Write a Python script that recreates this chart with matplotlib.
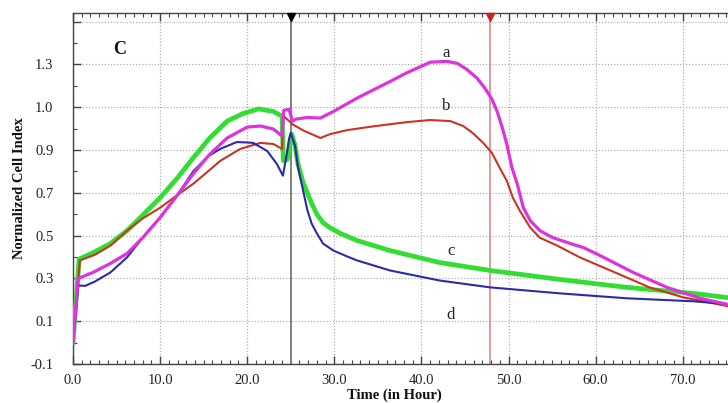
import matplotlib
matplotlib.use("Agg")
import matplotlib.pyplot as plt
import matplotlib.transforms as mtransforms
from matplotlib.ticker import MultipleLocator, FixedLocator

# ---------------- data ----------------
t_a = [0, 0.6, 2.3, 4.3, 6.2, 8.0, 10.0, 12.0, 13.8, 15.7, 17.7, 20.0, 21.5, 23.0, 24.0,
       24.2, 24.8, 25.2, 25.6, 26.9, 28.4, 29.9, 32.6, 36.4, 38.3, 40.2, 41.0, 42.9, 44.1,
       45.2, 46.4, 47.3, 48.1, 48.7, 49.3, 49.8, 50.4, 51.0, 51.7, 52.5, 53.6, 55.1, 57.1,
       58.6, 60.5, 64.3, 68.2, 72.0, 75.2]
v_a = [0.0, 0.30, 0.328, 0.37, 0.416, 0.49, 0.584, 0.69, 0.788, 0.88, 0.956, 1.007, 1.012, 0.998, 0.965,
       1.085, 1.09, 1.035, 1.044, 1.052, 1.049, 1.08, 1.142, 1.22, 1.26, 1.295, 1.31, 1.314, 1.305,
       1.277, 1.235, 1.188, 1.137, 1.08, 1.002, 0.928, 0.816, 0.742, 0.63, 0.57, 0.523, 0.49, 0.463,
       0.444, 0.407, 0.328, 0.258, 0.207, 0.178]

t_b = [0, 0.8, 2.5, 4.3, 6.2, 8.0, 10.0, 12.0, 13.8, 15.5, 16.9, 19.2, 21.5, 23.0, 24.0,
       24.15, 25.2, 26.5, 28.4, 29.5, 31.5, 34.4, 38.3, 41.0, 43.3, 44.8, 45.9, 47.1, 48.1,
       49.0, 49.8, 50.5, 51.3, 52.5, 53.6, 55.6, 58.2, 62.5, 66.2, 70.0, 75.2]
v_b = [0.0, 0.384, 0.41, 0.453, 0.523, 0.58, 0.63, 0.69, 0.742, 0.80, 0.849, 0.905, 0.933, 0.928, 0.905,
       1.06, 1.02, 0.99, 0.956, 0.974, 0.993, 1.01, 1.03, 1.04, 1.035, 1.012, 0.979, 0.933, 0.886,
       0.816, 0.756, 0.677, 0.616, 0.537, 0.49, 0.453, 0.398, 0.323, 0.258, 0.212, 0.17]

t_c = [0, 0.7, 2.3, 4.3, 6.2, 8.0, 10.0, 12.0, 13.8, 15.7, 17.7, 19.5, 21.3, 23.0, 24.0,
       24.15, 24.6, 25.1, 25.5, 25.8, 26.4, 26.9, 27.4, 28.0, 28.7, 29.5, 30.7, 32.6, 36.4,
       42.1, 47.9, 55.9, 63.6, 71.2, 75.2]
v_c = [0.0, 0.39, 0.42, 0.463, 0.523, 0.595, 0.677, 0.77, 0.863, 0.956, 1.035, 1.07, 1.092, 1.08, 1.058,
       0.85, 0.855, 0.975, 0.92, 0.84, 0.75, 0.70, 0.65, 0.60, 0.56, 0.537, 0.51, 0.477, 0.43,
       0.374, 0.337, 0.295, 0.258, 0.23, 0.21]

t_d = [0, 0.6, 1.4, 2.5, 4.3, 6.2, 8.0, 10.0, 12.0, 13.8, 15.5, 16.9, 18.8, 20.0, 20.7,
       22.3, 23.4, 24.1, 24.5, 24.8, 25.0, 25.5, 25.8, 26.3, 26.9, 27.4, 28.0, 28.7, 29.9,
       31.5, 32.6, 36.4, 42.1, 47.9, 55.9, 63.6, 71.2, 75.2]
v_d = [0.0, 0.267, 0.265, 0.285, 0.328, 0.398, 0.49, 0.584, 0.69, 0.80, 0.87, 0.905, 0.937, 0.935, 0.933,
       0.895, 0.835, 0.78, 0.87, 0.95, 0.98, 0.918, 0.826, 0.733, 0.62, 0.556, 0.51, 0.463, 0.43,
       0.402, 0.384, 0.337, 0.29, 0.258, 0.23, 0.207, 0.193, 0.18]

curve_labels = ["a", "b", "c", "d"]
label_x = [42.8, 42.9, 43.4, 43.4]
label_y = [1.351, 1.105, 0.426, 0.128]

y_ticks = [-0.1, 0.1, 0.3, 0.5, 0.7, 0.9, 1.1, 1.3, 1.5]
y_tick_labels = ["-0.1", "0.1", "0.3", "0.5", "0.7", "0.9", "1.0", "1.3", ""]
x_ticks = [0, 10, 20, 30, 40, 50, 60, 70]
x_tick_labels = ["0.0", "10.0", "20.0", "30.0", "40.0", "50.0", "60.0", "70.0"]

event_times = [25.0, 47.9]

# ---------------- figure ----------------
serif = "Liberation Serif"
W, H = 728, 403
fig = plt.figure(figsize=(W / 100, H / 100), dpi=100)
left, right, top, bottom = 73, 728, 13, 364
ax = fig.add_axes([left / W, 1 - bottom / H, (right - left) / W, (bottom - top) / H])
ax.set_xlim(0, 75.2)
ax.set_ylim(-0.1, 1.54)

# grid
ax.set_axisbelow(True)
ax.grid(True, which="major", color="#b0b0b0", linestyle=(0, (1, 1.5)), linewidth=0.9)

# curves
ax.plot(t_c, v_c, color="#33dd33", lw=3.4, solid_joinstyle="round", zorder=3)
ax.plot(t_b, v_b, color="#cc3322", lw=1.5, solid_joinstyle="round", zorder=4)
ax.plot(t_d, v_d, color="#2a2aaa", lw=1.5, solid_joinstyle="round", zorder=4)
ax.plot(t_a, v_a, color="#dd33dd", lw=2.3, solid_joinstyle="round", zorder=5)

# event lines
ax.axvline(event_times[0], color="#777777", lw=1.3, zorder=2)
ax.axvline(event_times[1], color="#d98080", lw=1.1, zorder=2)
trans = mtransforms.blended_transform_factory(ax.transData, ax.transAxes)
ax.plot([event_times[0]], [0.99], marker="v", color="black", ms=6, transform=trans,
        clip_on=False, zorder=6)
ax.plot([event_times[1]], [0.99], marker="v", color="#cc2222", ms=6, transform=trans,
        clip_on=False, zorder=6)

# curve labels
for lab, x, y in zip(curve_labels, label_x, label_y):
    ax.text(x, y, lab, ha="center", va="center", fontsize=12, family=serif, color="#222222")
ax.text(5.35, 1.37, "C", ha="center", va="center", fontsize=13, fontweight="bold",
        family=serif, color="#111111")

# axes styling
for s in ["left", "top", "bottom"]:
    ax.spines[s].set_color("#444444")
    ax.spines[s].set_linewidth(1.0)
ax.spines["right"].set_visible(False)

ax.xaxis.set_major_locator(FixedLocator(x_ticks))
ax.set_xticklabels(x_tick_labels)
ax.xaxis.set_minor_locator(MultipleLocator(1))
ax.yaxis.set_major_locator(FixedLocator(y_ticks))
ax.set_yticklabels(y_tick_labels)
ax.yaxis.set_minor_locator(MultipleLocator(0.1))

ax.tick_params(axis="x", which="both", direction="in", top=True, bottom=True,
               color="#444444", pad=7)
ax.tick_params(axis="y", which="both", direction="in", left=True, right=False,
               color="#444444", pad=14)
ax.tick_params(which="major", length=6, width=1)
ax.tick_params(which="minor", length=3, width=0.8)
for lbl in ax.get_xticklabels() + ax.get_yticklabels():
    lbl.set_family(serif)
    lbl.set_fontsize(10.5)
    lbl.set_color("#222222")

ax.set_ylabel("Normalized Cell Index", family=serif, fontweight="bold", fontsize=10.5,
              color="#111111")
ax.yaxis.set_label_coords(-0.072, 0.5)
ax.text(0.49, -0.088, "Time (in Hour)", transform=ax.transAxes, ha="center", va="center",
        family=serif, fontweight="bold", fontsize=10.5, color="#111111")

fig.savefig("out.png", dpi=100)
